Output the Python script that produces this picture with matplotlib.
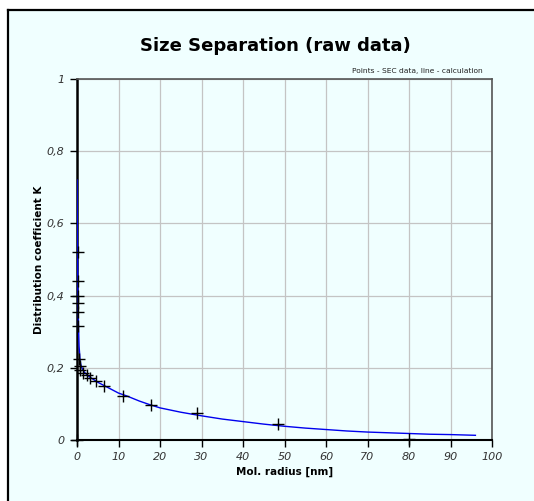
import numpy as np
import matplotlib
matplotlib.use("Agg")
import matplotlib.pyplot as plt
from matplotlib.patches import Rectangle
from matplotlib.lines import Line2D
from matplotlib.ticker import FuncFormatter

# SEC data points (mol. radius in nm, distribution coefficient K)
radius = [0.0, 0.3, 0.3, 0.3, 0.3, 0.3, 0.3, 0.6, 0.7, 0.7, 1.5, 2.3, 3.1, 4.5, 6.5, 11.2, 17.8, 28.8, 48.4, 80.0]
k_data = [0.0, 0.52, 0.44, 0.40, 0.38, 0.355, 0.315, 0.225, 0.205, 0.195, 0.186, 0.18, 0.173, 0.163, 0.149, 0.123, 0.096, 0.074, 0.044, 0.003]

# calculated curve
calc_r = [0.02, 0.1, 0.2, 0.35, 0.5, 0.75, 1, 1.5, 2, 3, 5, 7, 10, 12, 15, 17.5, 20, 25, 30, 35, 40,
          45, 50, 55, 60, 65, 70, 75, 80, 85, 90, 96]
calc_k = [0.72, 0.55, 0.42, 0.32, 0.26, 0.22, 0.205, 0.192, 0.185, 0.175, 0.16, 0.148, 0.13, 0.122, 0.108,
          0.098, 0.089, 0.077, 0.067, 0.058, 0.051, 0.044, 0.038, 0.033, 0.029, 0.025, 0.022, 0.020,
          0.018, 0.016, 0.015, 0.013]

x_ticks = list(range(0, 101, 10))
y_ticks = [0, 0.2, 0.4, 0.6, 0.8, 1]

W, H = 534, 501
fig = plt.figure(figsize=(W / 100, H / 100), dpi=100)
fig.patch.set_facecolor("white")
bg = "#F0FFFF"
fig.patches.append(Rectangle((8 / W, 0), 1, (H - 10) / H, transform=fig.transFigure,
                             facecolor=bg, edgecolor="none", zorder=-10))
fig.add_artist(Line2D([8 / W, 8 / W], [0, (H - 10) / H], transform=fig.transFigure, color="black", lw=1.6))
fig.add_artist(Line2D([8 / W, 1], [(H - 10) / H, (H - 10) / H], transform=fig.transFigure, color="black", lw=1.6))

ax = fig.add_axes([77 / W, (H - 440) / H, (492 - 77) / W, (440 - 79) / H])
ax.set_zorder(5)
ax.set_facecolor(bg)

ax.plot(calc_r, calc_k, color="#0000EE", lw=1.0, zorder=3)
ax.plot(radius, k_data, ls="none", marker="+", ms=8, mew=1.0, color="black", zorder=4, clip_on=False)

ax.set_xlim(0, 100)
ax.set_ylim(0, 1)
ax.set_xticks(x_ticks)
ax.set_yticks(y_ticks)
ax.yaxis.set_major_formatter(FuncFormatter(lambda v, p: ("%g" % v).replace(".", ",")))
ax.grid(True, color="#C4C4C4", lw=0.9)
ax.set_axisbelow(True)
ax.tick_params(direction="out", length=5, width=1, color="black", labelsize=8, labelcolor="#333333", pad=4)
for lab in ax.get_xticklabels() + ax.get_yticklabels():
    lab.set_fontstyle("italic")

ax.spines["left"].set_linewidth(1.8)
ax.spines["bottom"].set_linewidth(1.5)
for s in ["top", "right"]:
    ax.spines[s].set_color("#555555")
    ax.spines[s].set_linewidth(1.2)

ax.set_xlabel("Mol. radius [nm]", fontsize=7.5, fontweight="bold", labelpad=3)
ax.set_ylabel("Distribution coefficient K", fontsize=7.5, fontweight="bold", labelpad=2)

fig.text(275 / W, 1 - 46 / H, "Size Separation (raw data)", fontsize=13, fontweight="bold",
         ha="center", va="center")
fig.text(483 / W, 1 - 71 / H, "Points - SEC data, line - calculation", fontsize=5.4,
         ha="right", va="center", color="#222222")

fig.savefig("out.png", dpi=100, facecolor=fig.get_facecolor())
